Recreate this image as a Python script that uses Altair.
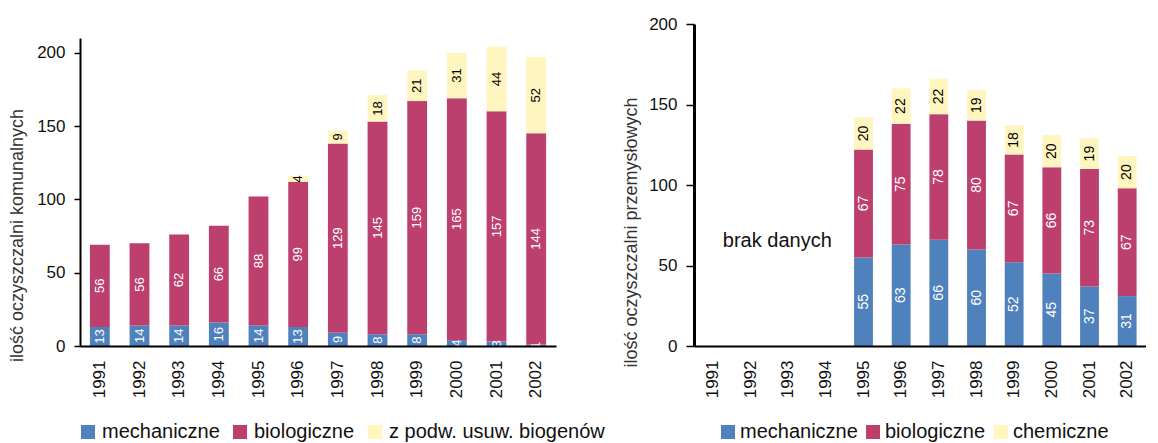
import altair as alt
import pandas as pd

FONT = "Liberation Sans"

# ---- data ----
years = [str(y) for y in range(1991, 2003)]

kom_types = ["mechaniczne", "biologiczne", "z podw. usuw. biogenów"]
kom_mech = [13, 14, 14, 16, 14, 13, 9, 8, 8, 4, 3, 1]
kom_bio = [56, 56, 62, 66, 88, 99, 129, 145, 159, 165, 157, 144]
kom_biog = [0, 0, 0, 0, 0, 4, 9, 18, 21, 31, 44, 52]

prz_years = [str(y) for y in range(1995, 2003)]
prz_types = ["mechaniczne", "biologiczne", "chemiczne"]
prz_mech = [55, 63, 66, 60, 52, 45, 37, 31]
prz_bio = [67, 75, 78, 80, 67, 66, 73, 67]
prz_chem = [20, 22, 22, 19, 18, 20, 19, 20]

colors = ["#4F81BD", "#BC3F6E", "#FFF5BF"]

note_text = "brak danych"
note_year = "1991"
note_value = 65


def long_df(yrs, types, series):
    rows = []
    for order, (t, vals) in enumerate(zip(types, series), start=1):
        for y, v in zip(yrs, vals):
            rows.append({"year": y, "type": t, "order": order, "value": v})
    return pd.DataFrame(rows)


kom_df = long_df(years, kom_types, [kom_mech, kom_bio, kom_biog])
prz_df = long_df(prz_years, prz_types, [prz_mech, prz_bio, prz_chem])


def panel(df, types, width, y_scale, y_title, tick_size, y_domain_width, title_x, title_y,
          legend_x, legend_y, col_pad, lab_off, bar_font, note=None):
    x_axis = alt.Axis(labelAngle=270, labelPadding=14, ticks=False, domainColor="black",
                      domainWidth=2, labelFontSize=17, labelFont=FONT, labelColor="#111",
                      zindex=1)
    y_axis = alt.Axis(values=[0, 50, 100, 150, 200], tickSize=tick_size, tickColor="black",
                      tickWidth=1.5, domainColor="black", domainWidth=y_domain_width,
                      labelPadding=9, grid=False, labelFontSize=17, labelFont=FONT,
                      labelColor="#111", titleFont=FONT, titleFontSize=18,
                      titleFontWeight="normal", titleColor="#333", titleAngle=270,
                      titleX=title_x, titleY=title_y, titleAlign="center",
                      titleBaseline="middle", zindex=1)
    xs = alt.Scale(domain=years, paddingInner=0.5, paddingOuter=0.25)

    def X():
        return alt.X("year:N", scale=xs, axis=x_axis, title=None)

    def Y(field):
        return alt.Y(field, scale=y_scale, axis=y_axis, title=y_title)

    base = alt.Chart(df).transform_filter("datum.value > 0")
    bars = base.mark_bar().encode(
        x=X(),
        y=alt.Y("value:Q", stack="zero", scale=y_scale, axis=y_axis, title=y_title),
        color=alt.Color("type:N", scale=alt.Scale(domain=types, range=colors),
                        legend=alt.Legend(orient="none", legendX=legend_x, legendY=legend_y,
                                          direction="horizontal", symbolType="square",
                                          symbolSize=196, symbolStrokeWidth=0,
                                          labelFontSize=20, labelFont=FONT, labelColor="#111",
                                          labelLimit=0,
                                          columnPadding=col_pad, labelOffset=lab_off,
                                          title=None, padding=0)),
        order=alt.Order("order:Q"),
    )
    stacked = base.transform_stack(
        stack="value", groupby=["year"], as_=["v0", "v1"],
        sort=[alt.SortField("order", "ascending")]
    ).transform_calculate(mid="(datum.v0 + datum.v1) / 2")
    txt_w = stacked.transform_filter("datum.order < 3").mark_text(
        angle=270, color="white", fontSize=bar_font, font=FONT, baseline="middle", align="center"
    ).encode(x=X(), y=Y("mid:Q"), text="value:Q")
    txt_b = stacked.transform_filter("datum.order == 3").mark_text(
        angle=270, color="black", fontSize=bar_font, font=FONT, baseline="middle", align="center"
    ).encode(x=X(), y=Y("mid:Q"), text="value:Q")
    layers = [bars, txt_w, txt_b]
    if note is not None:
        ndf = pd.DataFrame({"year": [note_year], "v": [note_value], "label": [note]})
        layers.append(
            alt.Chart(ndf).mark_text(align="left", baseline="middle", fontSize=20, font=FONT,
                                     dx=10, color="#111")
            .encode(x=X(), y=Y("v:Q"), text="label:N")
        )
    return alt.layer(*layers).properties(width=width, height=322)


left = panel(kom_df, kom_types, 476,
             alt.Scale(domain=[0, 210], range=[322, 14], nice=False),
             "ilość oczyszczalni komunalnych", 6, 2, -63, 211,
             -2, 398, 10, 4, 13)
right = panel(prz_df, prz_types, 452,
              alt.Scale(domain=[0, 200], nice=False),
              "ilość oczyszczalni przemysłowych", 8, 3, -63, 208,
              24, 398, 5, 2, 14, note=note_text)

chart = alt.hconcat(left, right, spacing=138, bounds="flush").resolve_scale(
    color="independent", x="independent", y="independent"
).properties(
    padding={"left": 0, "top": 7, "right": 0, "bottom": 0}
).configure_view(stroke=None)

chart.save("out.html", embed_options={"renderer": "svg", "actions": False})
